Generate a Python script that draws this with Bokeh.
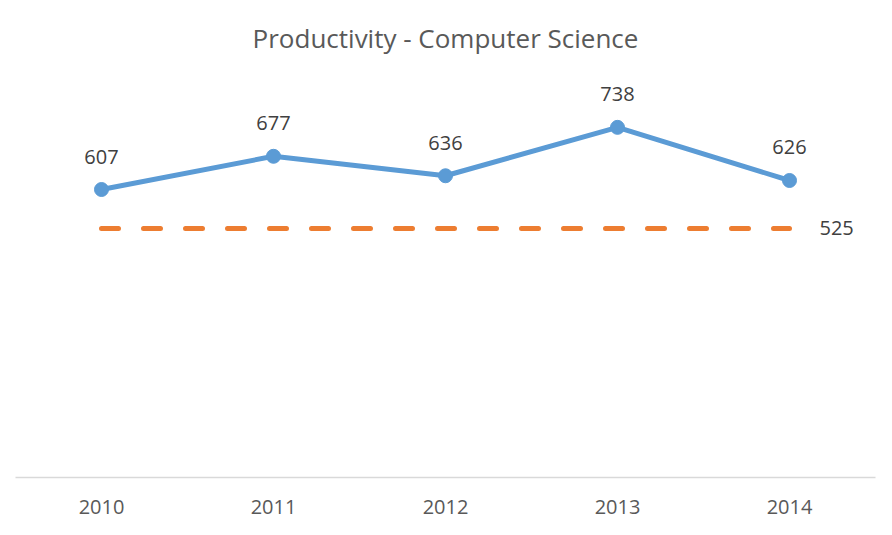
from bokeh.plotting import figure
from bokeh.models import FactorRange, Range1d, ColumnDataSource, Label
from bokeh.embed import file_html
from bokeh.resources import INLINE
from bokeh.core.properties import value

years = ["2010", "2011", "2012", "2013", "2014"]
productivity = [607, 677, 636, 738, 626]
target = 525
target_vals = [target] * len(years)
title_text = "Productivity - Computer Science"

src = ColumnDataSource(dict(x=years, y=productivity, lbl=[str(v) for v in productivity], t=target_vals))

p = figure(width=876, height=519,
           x_range=FactorRange(factors=years, range_padding=0),
           y_range=Range1d(0, 900),
           output_backend="svg", toolbar_location=None,
           min_border_left=15, min_border_right=1,
           min_border_top=50, min_border_bottom=42)

p.title.text = title_text
p.title.align = "center"
p.title.offset = 10
p.title.standoff = -11
p.title.text_font = "Open Sans"
p.title.text_font_size = "26px"
p.title.text_font_style = "normal"
p.title.text_color = "#595959"

p.outline_line_color = None
p.xgrid.grid_line_color = None
p.ygrid.grid_line_color = None
p.yaxis.visible = False

ax = p.xaxis[0]
ax.axis_line_color = "#d9d9d9"
ax.axis_line_width = 1.5
ax.major_tick_line_color = None
ax.minor_tick_line_color = None
ax.major_label_text_font = "Open Sans"
ax.major_label_text_font_size = "20px"
ax.major_label_text_color = "#595959"
ax.major_label_standoff = 16

# target dashed line
p.line(x="x", y="t", source=src, line_color="#ed7d31", line_width=5,
       line_dash="17 25", line_cap="round")

# productivity line
p.line(x="x", y="y", source=src, line_color="#5b9bd5", line_width=5, line_join="round")
p.scatter(x="x", y="y", source=src, size=14, fill_color="#5b9bd5", line_color="#5b9bd5")

p.text(x="x", y="y", text="lbl", source=src, y_offset=-33,
       text_align="center", text_baseline="middle",
       text_font=value("Open Sans"), text_font_size="20px", text_color="#404040")

p.add_layout(Label(x=4.5, y=target, text=str(target), x_offset=30,
                   text_align="left", text_baseline="middle",
                   text_font="Open Sans", text_font_size="20px", text_color="#404040"))

open("out.html", "w").write(file_html(p, INLINE))
